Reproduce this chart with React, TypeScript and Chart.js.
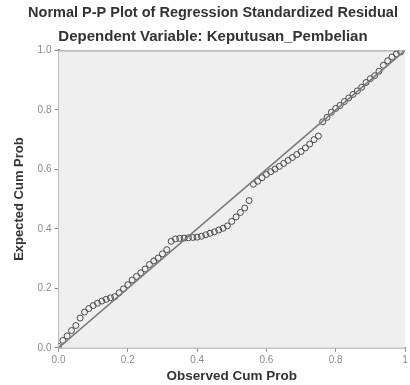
import React, { useEffect, useRef } from "react";
import { Chart, registerables } from "chart.js";

Chart.register(...registerables);

const titleText = "Normal P-P Plot of Regression Standardized Residual";
const subtitleText = "Dependent Variable: Keputusan_Pembelian";
const xAxisTitle = "Observed Cum Prob";
const yAxisTitle = "Expected Cum Prob";
const tickValues = [0, 0.2, 0.4, 0.6, 0.8, 1.0];
const xTickLabels = ["0.0", "0.2", "0.4", "0.6", "0.8", "1"];
const yTickLabels = ["0.0", "0.2", "0.4", "0.6", "0.8", "1.0"];

const observedCumProb = [
  0.0, 0.0125, 0.025, 0.0375, 0.05, 0.0625, 0.075, 0.0875, 0.1, 0.1125,
  0.125, 0.1375, 0.15, 0.1625, 0.175, 0.1875, 0.2, 0.2125, 0.225, 0.2375,
  0.25, 0.2625, 0.275, 0.2875, 0.3, 0.3125, 0.325, 0.3375, 0.35, 0.3625,
  0.375, 0.3875, 0.4, 0.4125, 0.425, 0.4375, 0.45, 0.4625, 0.475, 0.4875,
  0.5, 0.5125, 0.525, 0.5375, 0.55, 0.5625, 0.575, 0.5875, 0.6, 0.6125,
  0.625, 0.6375, 0.65, 0.6625, 0.675, 0.6875, 0.7, 0.7125, 0.725, 0.7375,
  0.75, 0.7625, 0.775, 0.7875, 0.8, 0.8125, 0.825, 0.8375, 0.85, 0.8625,
  0.875, 0.8875, 0.9, 0.9125, 0.925, 0.9375, 0.95, 0.9625, 0.975, 0.9875,
];

const expectedCumProb = [
  0.005, 0.025, 0.04, 0.058, 0.075, 0.1, 0.12, 0.132, 0.142, 0.15,
  0.157, 0.163, 0.168, 0.172, 0.185, 0.198, 0.212, 0.228, 0.24, 0.252,
  0.265, 0.28, 0.292, 0.302, 0.316, 0.33, 0.358, 0.366, 0.368, 0.369,
  0.37, 0.371, 0.372, 0.375, 0.38, 0.385, 0.39, 0.396, 0.402, 0.41,
  0.425, 0.44, 0.455, 0.47, 0.495, 0.55, 0.56, 0.572, 0.583, 0.592,
  0.601, 0.61, 0.62, 0.63, 0.64, 0.65, 0.66, 0.672, 0.685, 0.7,
  0.712, 0.76, 0.775, 0.792, 0.805, 0.815, 0.828, 0.84, 0.852, 0.864,
  0.876, 0.892, 0.905, 0.915, 0.93, 0.95, 0.965, 0.978, 0.988, 0.995,
];

const referenceLine = [
  { x: 0, y: 0 },
  { x: 1, y: 1 },
];

const plotBackground = {
  id: "plotBackground",
  beforeDatasetsDraw(chart: any) {
    const { ctx, chartArea } = chart;
    ctx.save();
    ctx.fillStyle = "#efefef";
    ctx.fillRect(chartArea.left, chartArea.top, chartArea.right - chartArea.left, chartArea.bottom - chartArea.top);
    ctx.strokeStyle = "#9a9a9a";
    ctx.lineWidth = 1;
    ctx.beginPath();
    ctx.moveTo(chartArea.left, chartArea.top + 0.5);
    ctx.lineTo(chartArea.right, chartArea.top + 0.5);
    ctx.stroke();
    ctx.restore();
  },
};

export default function App() {
  const ref = useRef<HTMLCanvasElement | null>(null);

  useEffect(() => {
    document.body.style.margin = "0";
    const points = observedCumProb.map((x, i) => ({ x, y: expectedCumProb[i] }));
    const makeFmt = (labels: string[]) => (v: any) => {
      const n = Number(v);
      const idx = tickValues.findIndex((t) => Math.abs(t - n) < 1e-6);
      return idx >= 0 ? labels[idx] : "";
    };
    const chart = new Chart(ref.current as HTMLCanvasElement, {
      type: "scatter",
      data: {
        datasets: [
          {
            type: "line",
            data: referenceLine,
            borderColor: "#7a7a7a",
            borderWidth: 1.6,
            pointRadius: 0,
            fill: false,
          } as any,
          {
            data: points,
            pointRadius: 3,
            pointBorderWidth: 1,
            pointBackgroundColor: "rgba(0,0,0,0)",
            pointBorderColor: "#4a4a4a",
          },
        ],
      },
      plugins: [plotBackground],
      options: {
        animation: false,
        responsive: false,
        layout: { padding: { left: 12, right: -4, top: 0, bottom: 1 } },
        plugins: {
          legend: { display: false },
          tooltip: { enabled: false },
          title: {
            display: true,
            text: titleText,
            color: "#333",
            font: { family: "Liberation Sans, Arial", size: 14.5, weight: "bold" },
            padding: { top: 4, bottom: 4 },
          },
          subtitle: {
            display: true,
            text: subtitleText,
            color: "#333",
            font: { family: "Liberation Sans, Arial", size: 15, weight: "bold" },
            padding: { top: 2, bottom: 5 },
          },
        },
        scales: {
          x: {
            type: "linear",
            min: 0,
            max: 1,
            border: { color: "#8a8a8a", width: 1.5 },
            grid: { display: true, drawOnChartArea: false, drawTicks: true, tickLength: 4, color: "#8a8a8a" },
            ticks: { stepSize: 0.2, color: "#8a8a8a", font: { family: "Liberation Sans, Arial", size: 10 }, padding: 2, callback: makeFmt(xTickLabels) },
            title: {
              display: true,
              text: xAxisTitle,
              color: "#333",
              font: { family: "Liberation Sans, Arial", size: 13.5, weight: "bold" },
              padding: { top: 0, bottom: 0 },
            },
          },
          y: {
            type: "linear",
            min: 0,
            max: 1,
            border: { color: "#8a8a8a", width: 2 },
            grid: { display: true, drawOnChartArea: false, drawTicks: true, tickLength: 4, color: "#8a8a8a" },
            ticks: { stepSize: 0.2, color: "#8a8a8a", font: { family: "Liberation Sans, Arial", size: 10 }, padding: 3, callback: makeFmt(yTickLabels) },
            title: {
              display: true,
              text: yAxisTitle,
              color: "#333",
              font: { family: "Liberation Sans, Arial", size: 13, weight: "bold" },
              padding: { top: 0, bottom: 7 },
            },
          },
        },
      },
    } as any);
    return () => chart.destroy();
  }, []);

  return <canvas ref={ref} width={410} height={385} style={{ display: "block" }} />;
}
